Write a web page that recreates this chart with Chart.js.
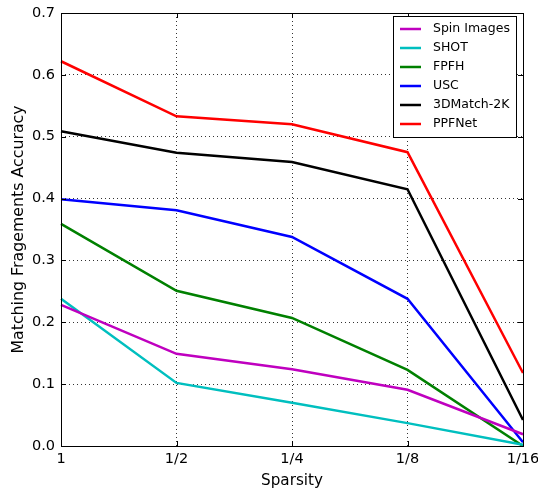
<!DOCTYPE html>
<html><head><meta charset="utf-8">
<script src="https://cdn.jsdelivr.net/npm/chart.js@4"></script>
<style>html,body{margin:0;padding:0;background:#fff}#c{display:block}</style>
</head><body>
<canvas id="c" width="538" height="490"></canvas>
<script>
const categories = ["1", "1/2", "1/4", "1/8", "1/16"];
const seriesNames = ["Spin Images", "SHOT", "FPFH", "USC", "3DMatch-2K", "PPFNet"];
const spinImages = [0.228, 0.149, 0.124, 0.091, 0.019];
const shot = [0.238, 0.102, 0.070, 0.037, 0.002];
const fpfh = [0.359, 0.251, 0.207, 0.123, 0.0];
const usc = [0.399, 0.381, 0.338, 0.238, 0.006];
const match3d = [0.509, 0.474, 0.459, 0.415, 0.042];
const ppfnet = [0.622, 0.533, 0.520, 0.475, 0.118];
const yTicks = [0, 0.1, 0.2, 0.3, 0.4, 0.5, 0.6, 0.7];
const colors = ["#bf00bf", "#00bfbf", "#008000", "#0000ff", "#000000", "#ff0000"];
const allValues = [spinImages, shot, fpfh, usc, match3d, ppfnet];

const FONT = "'DejaVu Sans', sans-serif";

const framePlugin = {
  id: 'frame',
  afterDatasetsDraw(chart) {
    const ctx = chart.ctx, a = chart.chartArea;
    const xs = chart.scales.x, ys = chart.scales.y;
    ctx.save();
    ctx.strokeStyle = '#000';
    ctx.lineWidth = 1;
    ctx.beginPath();
    yTicks.forEach(v => {
      const y = Math.round(ys.getPixelForValue(v)) + 0.5;
      ctx.moveTo(a.left, y); ctx.lineTo(a.left + 5, y);
      ctx.moveTo(a.right, y); ctx.lineTo(a.right - 5, y);
    });
    categories.forEach((c, i) => {
      const x = Math.round(xs.getPixelForValue(i)) + 0.5;
      ctx.moveTo(x, a.bottom); ctx.lineTo(x, a.bottom - 5);
      ctx.moveTo(x, a.top); ctx.lineTo(x, a.top + 5);
    });
    ctx.stroke();
    ctx.strokeRect(Math.round(a.left) + 0.5, Math.round(a.top) + 0.5,
      Math.round(a.right - a.left), Math.round(a.bottom - a.top));
    const bx = 393.5, by = 16.5, bw = 123, bh = 121;
    ctx.fillStyle = '#fff';
    ctx.fillRect(bx, by, bw, bh);
    ctx.strokeRect(bx, by, bw, bh);
    ctx.font = '12.5px ' + FONT;
    ctx.textBaseline = 'middle';
    ctx.textAlign = 'left';
    seriesNames.forEach((n, i) => {
      const y = 29 + i * 19;
      ctx.strokeStyle = colors[i];
      ctx.lineWidth = 2.5;
      ctx.beginPath(); ctx.moveTo(400, y); ctx.lineTo(421, y); ctx.stroke();
      ctx.fillStyle = '#000';
      ctx.fillText(n, 433, y);
    });
    ctx.restore();
  }
};

new Chart(document.getElementById('c'), {
  type: 'line',
  data: {
    labels: categories,
    datasets: seriesNames.map((n, i) => ({
      label: n,
      data: allValues[i],
      borderColor: colors[i],
      backgroundColor: colors[i],
      borderWidth: 2.5,
      pointRadius: 0,
      tension: 0,
      fill: false
    }))
  },
  options: {
    responsive: false,
    animation: false,
    devicePixelRatio: 1,
    layout: { padding: { left: 0, right: 15, top: 13, bottom: 0 } },
    plugins: { legend: { display: false }, tooltip: { enabled: false } },
    scales: {
      x: {
        type: 'category',
        offset: false,
        grid: { color: 'rgba(0,0,0,0.8)', lineWidth: 1, drawTicks: false },
        border: { display: false, dash: [1, 3] },
        ticks: { color: '#000', font: { family: FONT, size: 14.5 }, padding: 5, maxRotation: 0, autoSkip: false },
        title: { display: true, text: 'Sparsity', color: '#000', font: { family: FONT, size: 15.2 }, padding: { top: 2, bottom: 0 } },
        afterFit(s) { s.height = 44; s.paddingRight = 0; s.paddingLeft = 0; }
      },
      y: {
        min: 0, max: 0.7,
        afterBuildTicks(s) { s.ticks = yTicks.map(v => ({ value: v })); },
        grid: { color: 'rgba(0,0,0,0.8)', lineWidth: 1, drawTicks: false },
        border: { display: false, dash: [1, 3] },
        ticks: { color: '#000', font: { family: FONT, size: 14.5 }, padding: 6, callback: v => v.toFixed(1) },
        title: { display: true, text: 'Matching Fragements Accuracy', color: '#000', font: { family: FONT, size: 15.8 }, padding: { top: 9, bottom: 0 } },
        afterFit(s) { s.width = 61; s.paddingTop = 0; s.paddingBottom = 0; }
      }
    }
  },
  plugins: [framePlugin]
});
</script>
</body></html>
